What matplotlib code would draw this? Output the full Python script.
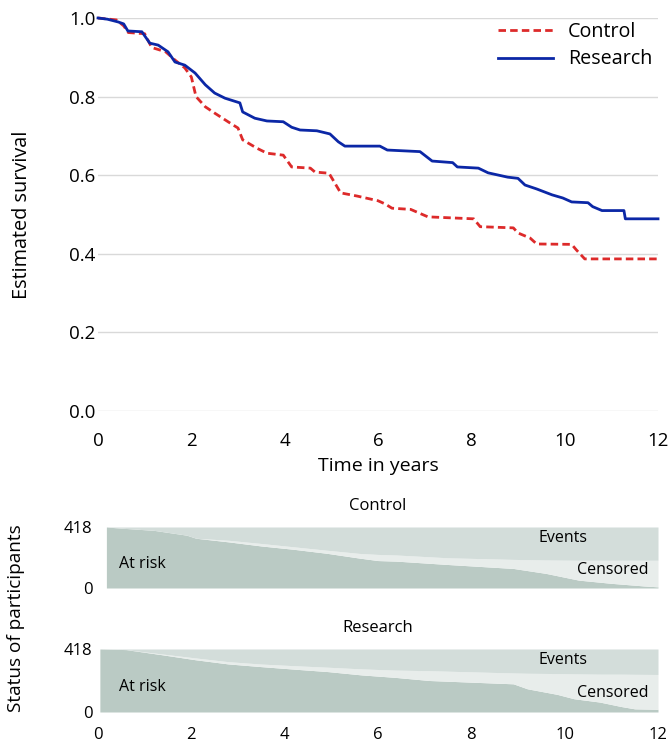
import matplotlib
matplotlib.use("Agg")
import matplotlib.pyplot as plt

plt.rcParams['font.family'] = ['Open Sans', 'DejaVu Sans']

# Kaplan-Meier estimates (time in years, survival)
control_t = [0, 0.4, 0.55, 0.65, 1.0, 1.15, 1.45, 1.65, 1.86, 2.0, 2.1, 2.3, 2.5, 2.8, 3.0,
             3.1, 3.4, 3.62, 3.97, 4.15, 4.55, 4.65, 4.95, 5.05, 5.2, 5.55, 6.0, 6.15, 6.3,
             6.7, 7.07, 8.05, 8.19, 8.9, 9.0, 9.26, 9.4, 10.15, 10.25, 10.43, 12.0]
control_s = [1.0, 0.995, 0.98, 0.963, 0.96, 0.925, 0.914, 0.893, 0.873, 0.85, 0.80, 0.774,
             0.758, 0.735, 0.72, 0.69, 0.669, 0.656, 0.651, 0.621, 0.618, 0.608, 0.605, 0.585,
             0.555, 0.547, 0.535, 0.527, 0.516, 0.513, 0.494, 0.489, 0.469, 0.466, 0.453,
             0.44, 0.425, 0.424, 0.41, 0.387, 0.387]

research_t = [0, 0.2, 0.43, 0.55, 0.64, 0.94, 1.11, 1.29, 1.5, 1.65, 1.86, 2.08, 2.3, 2.5,
              2.72, 3.04, 3.1, 3.36, 3.62, 3.97, 4.15, 4.33, 4.69, 4.97, 5.15, 5.29, 6.04,
              6.2, 6.9, 7.16, 7.6, 7.7, 8.15, 8.36, 8.78, 9.0, 9.15, 9.4, 9.73, 9.96, 10.15,
              10.5, 10.6, 10.8, 11.27, 11.3, 12.0]
research_s = [1.0, 0.997, 0.99, 0.985, 0.967, 0.965, 0.936, 0.931, 0.914, 0.888, 0.88, 0.86,
              0.83, 0.809, 0.796, 0.784, 0.761, 0.745, 0.738, 0.736, 0.722, 0.715, 0.713,
              0.705, 0.685, 0.674, 0.674, 0.664, 0.66, 0.636, 0.632, 0.621, 0.618, 0.606,
              0.595, 0.592, 0.575, 0.565, 0.55, 0.542, 0.532, 0.53, 0.52, 0.51, 0.51, 0.489,
              0.489]

# participant status (counts out of 418)
n_total = 418
ctrl_status_t = [0.18, 0.5, 1.2, 1.9, 2.1, 2.8, 3.5, 4.2, 4.9, 5.6, 6.0, 6.4, 7.5, 8.9, 9.6,
                 10.3, 11.0, 11.7, 12.0]
ctrl_at_risk = [418, 410, 395, 362, 341, 316, 288, 265, 238, 205, 188, 184, 161, 134, 100,
                54, 32, 14, 8]
ctrl_events = [0, 8, 23, 56, 77, 91, 113, 136, 159, 181, 188, 192, 211, 222, 226, 228, 228,
               228, 228]

res_status_t = [0.04, 0.6, 1.37, 2.08, 2.79, 3.5, 4.22, 4.93, 5.65, 6.36, 7.1, 8.9, 9.2,
                9.84, 10.2, 10.75, 11.2, 11.5, 12.0]
res_at_risk = [418, 414, 380, 347, 319, 301, 284, 268, 246, 230, 209, 187, 154, 117, 88, 66,
               37, 21, 18]
res_events = [0, 4, 33, 59, 84, 100, 111, 121, 132, 140, 144, 159, 161, 163, 165, 167, 167,
              168, 169]

red = '#dd2a2a'
blue = '#0b27a6'
c_risk = '#bacac4'
c_cens = '#e8edeb'
c_event = '#d3ddda'

W, H = 672, 747
fig = plt.figure(figsize=(W / 100, H / 100), dpi=100)


def box(left, top, right, bottom):
  return [left / W, 1 - bottom / H, (right - left) / W, (bottom - top) / H]


ax = fig.add_axes(box(98, 18, 658, 411))
ax.plot(control_t, control_s, color=red, lw=2.0, dashes=(2.7, 1.5), label='Control', clip_on=False)
ax.plot(research_t, research_s, color=blue, lw=2.0, label='Research', clip_on=False)
ax.set_xlim(0, 12)
ax.set_ylim(0, 1.0)
ax.set_yticks([0, 0.2, 0.4, 0.6, 0.8, 1.0])
ax.set_yticklabels(['0.0', '0.2', '0.4', '0.6', '0.8', '1.0'])
ax.set_xticks(range(0, 13, 2))
ax.grid(axis='y', color='#d9d9d9', lw=1)
ax.set_axisbelow(True)
for s in ax.spines.values():
  s.set_visible(False)
ax.tick_params(axis='x', length=0, pad=15, labelsize=13.5)
ax.tick_params(axis='y', length=0, pad=2, labelsize=13.5)
ax.legend(loc='upper right', bbox_to_anchor=(1.022, 1.035), frameon=False, fontsize=14.2,
          handlelength=2.8, handletextpad=0.75, labelspacing=0.38)
fig.text(378 / W, 1 - 466 / H, 'Time in years', ha='center', va='center', fontsize=14)
fig.text(22 / W, 1 - 215 / H, 'Estimated survival', ha='center', va='center',
         rotation=90, fontsize=14.3)


def status_panel(a, times, at_risk, events, title, show_x):
  top = [n_total] * len(times)
  cens_top = [n_total - e for e in events]
  a.fill_between(times, 0, at_risk, color=c_risk, lw=0)
  a.fill_between(times, at_risk, cens_top, color=c_cens, lw=0)
  a.fill_between(times, cens_top, top, color=c_event, lw=0)
  a.set_xlim(0, 12)
  a.set_ylim(0, n_total)
  a.set_yticks([0, n_total])
  a.set_xticks(range(0, 13, 2))
  for s in a.spines.values():
    s.set_visible(False)
  a.tick_params(axis='y', length=0, pad=4, labelsize=12)
  a.tick_params(axis='x', length=0, pad=11, labelsize=12)
  if not show_x:
    a.set_xticklabels([])
  a.set_title(title, fontsize=12, pad=12)
  a.text(0.45, 0.4 * n_total, 'At risk', fontsize=11.5, va='center', ha='left')
  a.text(10.5, 0.82 * n_total, 'Events', fontsize=11.5, va='center', ha='right')
  a.text(11.8, 0.3 * n_total, 'Censored', fontsize=11.5, va='center', ha='right')


ax_c = fig.add_axes(box(98, 527, 658, 588))
status_panel(ax_c, ctrl_status_t, ctrl_at_risk, ctrl_events, 'Control', False)
ax_r = fig.add_axes(box(98, 649, 658, 712))
status_panel(ax_r, res_status_t, res_at_risk, res_events, 'Research', True)
fig.text(16 / W, 1 - 618 / H, 'Status of participants', ha='center', va='center',
         rotation=90, fontsize=13.7)

fig.savefig('out.png', dpi=100)
